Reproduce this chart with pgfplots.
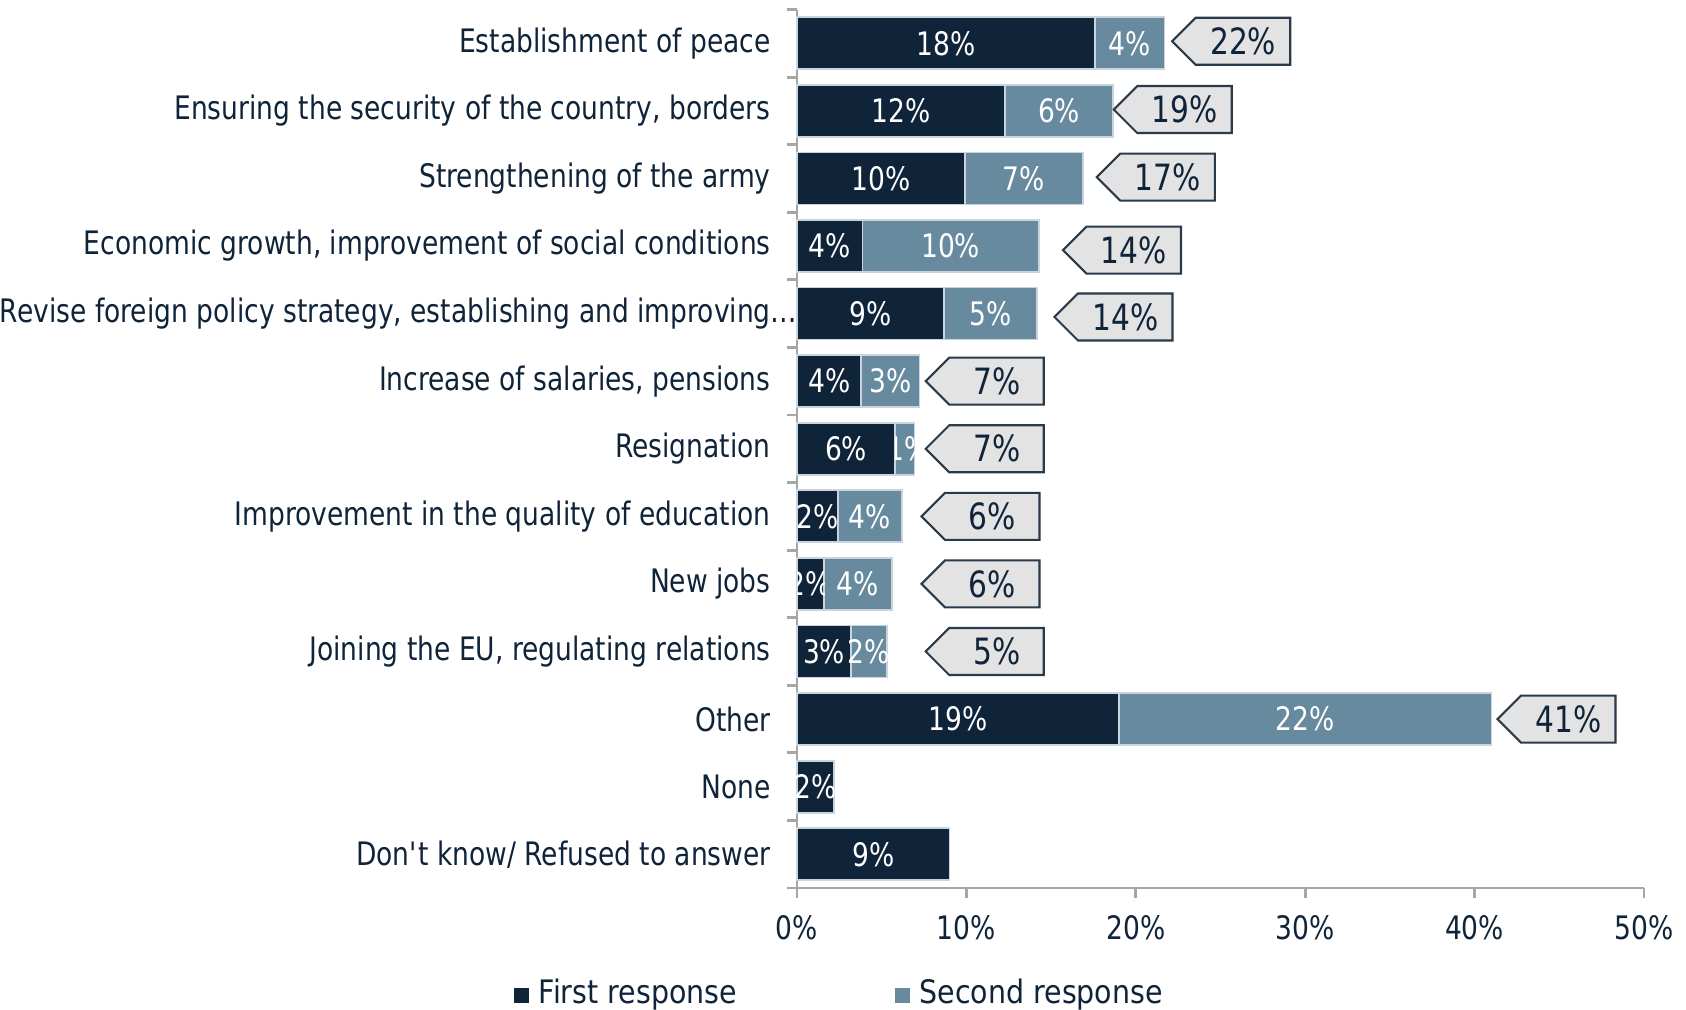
\documentclass[border=0pt]{standalone}
\usepackage{fontspec}
\setmainfont[FakeStretch=0.82]{DejaVu Sans}
\newfontfamily\legfont[FakeStretch=0.88]{DejaVu Sans}
\usepackage{pgfplots}
\pgfplotsset{compat=1.18}
\definecolor{navy}{HTML}{0F2339}
\definecolor{steel}{HTML}{678A9F}
\definecolor{callfill}{HTML}{E3E3E3}
\definecolor{calldraw}{HTML}{2A3A4A}
\definecolor{axgray}{HTML}{A6A6A6}
\definecolor{barline}{HTML}{C8D4DE}
\newcommand{\lbl}{\fontsize{9.2}{11}\selectfont}
\newcommand{\bigfont}{\fontsize{10.3}{13}\selectfont}
\tikzset{
  barlab/.style={font=\lbl, text=white},
  callbox/.style={draw=calldraw, fill=callfill, line width=0.6pt},
  calltext/.style={font=\bigfont, text=navy, xshift=7.1mm},
}

\pgfplotstableread{
y first
0 17.6
1 12.3
2 9.9
3 3.87
4 8.7
5 3.8
6 5.8
7 2.4
8 1.6
9 3.2
10 19.0
11 2.2
12 9.0
}\firstdata
\pgfplotstableread{
y second
0 4.1
1 6.35
2 7.0
3 10.4
4 5.46
5 3.43
6 1.14
7 3.8
8 4.0
9 2.1
10 22.0
}\seconddata

\begin{document}
\begin{tikzpicture}
\begin{axis}[
  at={(0,0)}, anchor=south west,
  scale only axis,
  width=84.7mm, height=87.85mm,
  xbar stacked, bar width=5.2mm,
  xmin=0, xmax=50,
  ymin=-0.5, ymax=12.5,
  y dir=reverse,
  axis x line*=bottom, axis y line*=left,
  axis line style={axgray, line width=0.8pt},
  tick style={axgray, line width=0.8pt},
  tick align=outside,
  major tick length=0.95mm,
  xtick={0,10,...,50},
  xticklabel={\pgfmathprintnumber{\tick}\%},
  xticklabel style={font=\lbl, text=navy, yshift=-0.6mm},
  ytick={-0.5,0.5,...,12.5},
  yticklabels={},
  extra y ticks={0,1,...,12},
  extra y tick labels={Establishment of peace,{Ensuring the security of the country, borders},Strengthening of the army,{Economic growth, improvement of social conditions},{Revise foreign policy strategy, establishing and improving\rlap{…}},{Increase of salaries, pensions},Resignation,Improvement in the quality of education,New jobs,{Joining the EU, regulating relations},Other,None,Don\textquotesingle t know/ Refused to answer},
  extra y tick style={tick style={draw=none}},
  yticklabel style={font=\lbl, text=navy, xshift=-0.45mm},
  /pgf/number format/assume math mode=true,
  clip=false,
]
\addplot[fill=navy, draw=barline, line width=0.5pt] table[x=first, y=y] {\firstdata};
\addplot[fill=steel, draw=barline, line width=0.5pt] table[x=second, y=y] {\seconddata};

% bar label anchors
\coordinate (a1) at (axis cs:8.8,0);
\coordinate (a2) at (axis cs:19.65,0);
\coordinate (a3) at (axis cs:6.15,1);
\coordinate (a4) at (axis cs:15.47,1);
\coordinate (a5) at (axis cs:4.95,2);
\coordinate (a6) at (axis cs:13.4,2);
\coordinate (a7) at (axis cs:1.93,3);
\coordinate (a8) at (axis cs:9.07,3);
\coordinate (a9) at (axis cs:4.35,4);
\coordinate (a10) at (axis cs:11.43,4);
\coordinate (a11) at (axis cs:1.9,5);
\coordinate (a12) at (axis cs:5.5,5);
\coordinate (a13) at (axis cs:2.9,6);
\coordinate (a14) at (axis cs:6.6,6);
\coordinate (a15) at (axis cs:1.2,7);
\coordinate (a16) at (axis cs:4.3,7);
\coordinate (a17) at (axis cs:0.75,8);
\coordinate (a18) at (axis cs:3.6,8);
\coordinate (a19) at (axis cs:1.6,9);
\coordinate (a20) at (axis cs:4.25,9);
\coordinate (a21) at (axis cs:9.5,10);
\coordinate (a22) at (axis cs:30.0,10);
\coordinate (a23) at (axis cs:1.1,11);
\coordinate (a24) at (axis cs:4.5,12);
% clip corners
\coordinate (k1) at (axis cs:5.8,5.62);
\coordinate (k2) at (axis cs:6.94,6.38);
\coordinate (k3) at (axis cs:0,7.62);
\coordinate (k4) at (axis cs:1.6,8.38);
% callout tips
\coordinate (c1) at (axis cs:22.15,-0.03);
\coordinate (c2) at (axis cs:18.7,0.98);
\coordinate (c3) at (axis cs:17.7,1.98);
\coordinate (c4) at (axis cs:15.7,3.06);
\coordinate (c5) at (axis cs:15.2,4.05);
\coordinate (c6) at (axis cs:7.6,5);
\coordinate (c7) at (axis cs:7.6,6);
\coordinate (c8) at (axis cs:7.35,7);
\coordinate (c9) at (axis cs:7.35,8);
\coordinate (c10) at (axis cs:7.6,9);
\coordinate (c11) at (axis cs:41.35,10);
\end{axis}

\foreach \n/\t in {a1/18,a2/4,a3/12,a4/6,a5/10,a6/7,a7/4,a8/10,a9/9,a10/5,a11/4,a12/3,a13/6,a15/2,a16/4,a18/4,a19/3,a20/2,a21/19,a22/22,a23/2,a24/9}
  \node[barlab] at (\n) {\t\%};
\begin{scope}
\clip (k1) rectangle (k2);
\node[barlab] at (a14) {1\%};
\end{scope}
\begin{scope}
\clip (k3) rectangle (k4);
\node[barlab] at (a17) {2\%};
\end{scope}

\foreach \n/\t in {c1/22,c2/19,c3/17,c4/14,c5/14,c6/7,c7/7,c8/6,c9/6,c10/5,c11/41}{
  \draw[callbox] (\n) -- ++(2.35mm,2.35mm) -- ++(9.45mm,0) -- ++(0,-4.7mm) -- ++(-9.45mm,0) -- cycle;
  \node[calltext] at (\n) {\t\%};
}

% legend
\fill[navy] (-28.3mm,-11.45mm) rectangle ++(1.5mm,1.5mm);
\node[anchor=west, font=\legfont\fontsize{9.2}{11}\selectfont, text=navy, inner sep=0pt] at (-25.9mm,-10.7mm) {First response};
\fill[steel] (9.8mm,-11.45mm) rectangle ++(1.5mm,1.5mm);
\node[anchor=west, font=\legfont\fontsize{9.2}{11}\selectfont, text=navy, inner sep=0pt] at (12.2mm,-10.7mm) {Second response};
\pgfresetboundingbox
\path[use as bounding box] (-79.7mm,-12.1mm) rectangle (88.9mm,88.8mm);
\end{tikzpicture}
\end{document}
